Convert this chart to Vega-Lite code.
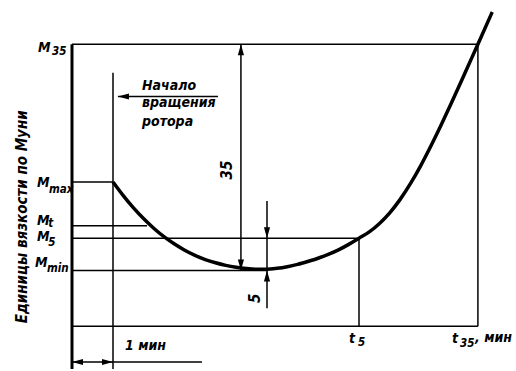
{
  "$schema": "https://vega.github.io/schema/vega-lite/v6.json",
  "width": 516,
  "height": 371,
  "autosize": {"type": "fit", "contains": "padding"},
  "padding": 0,
  "background": "white",
  "config": {"view": {"stroke": null}},
  "datasets": {
    "curve": [
      {"t": 1.0, "M": 53.7}, {"t": 1.25, "M": 51.6}, {"t": 1.5, "M": 49.7}, {"t": 1.75, "M": 48.0},
      {"t": 2.0, "M": 46.5}, {"t": 2.25, "M": 45.2}, {"t": 2.5, "M": 44.1}, {"t": 2.75, "M": 43.15},
      {"t": 3.0, "M": 42.35}, {"t": 3.25, "M": 41.7}, {"t": 3.5, "M": 41.2}, {"t": 3.75, "M": 40.8},
      {"t": 4.0, "M": 40.5}, {"t": 4.25, "M": 40.3}, {"t": 4.5, "M": 40.2}, {"t": 4.75, "M": 40.2},
      {"t": 5.0, "M": 40.35}, {"t": 5.25, "M": 40.6}, {"t": 5.5, "M": 40.95}, {"t": 5.75, "M": 41.4},
      {"t": 6.0, "M": 41.9}, {"t": 6.25, "M": 42.5}, {"t": 6.5, "M": 43.2}, {"t": 6.75, "M": 44.05},
      {"t": 7.0, "M": 45.0}, {"t": 7.25, "M": 45.97}, {"t": 7.5, "M": 47.28}, {"t": 7.75, "M": 48.93},
      {"t": 8.0, "M": 50.97}, {"t": 8.25, "M": 53.4}, {"t": 8.5, "M": 56.16}, {"t": 8.75, "M": 59.22},
      {"t": 9.0, "M": 62.47}, {"t": 9.25, "M": 65.87}, {"t": 9.5, "M": 69.36}, {"t": 9.75, "M": 72.9},
      {"t": 9.9, "M": 75.0}, {"t": 10.25, "M": 80.0}
    ],
    "thinLines": [
      {"name": "rotor start", "t": 1, "t2": 1, "M": 70.6, "M2": 24.77},
      {"name": "M35", "t": 0, "t2": 9.9, "M": 75, "M2": 75},
      {"name": "t35", "t": 9.9, "t2": 9.9, "M": 75, "M2": 31.38},
      {"name": "base", "t": 0, "t2": 9.9, "M": 31.38, "M2": 31.38},
      {"name": "Mmax", "t": 0, "t2": 1, "M": 53.7, "M2": 53.7},
      {"name": "Mt", "t": 0, "t2": 1.83, "M": 46.92, "M2": 46.92},
      {"name": "M5", "t": 0, "t2": 7, "M": 45, "M2": 45},
      {"name": "t5", "t": 7, "t2": 7, "M": 45, "M2": 31.38},
      {"name": "Mmin", "t": 0, "t2": 4.78, "M": 40, "M2": 40},
      {"name": "dim35", "t": 4.12, "t2": 4.12, "M": 75, "M2": 40},
      {"name": "dim5", "t": 4.756, "t2": 4.756, "M": 50.77, "M2": 34.15},
      {"name": "dim1min", "t": 0, "t2": 3.17, "M": 25.85, "M2": 25.85},
      {"name": "leader", "t": 1.12, "t2": 3.56, "M": 66.92, "M2": 66.92}
    ],
    "thickLines": [
      {"name": "axis", "t": 0, "t2": 0, "M": 75, "M2": 24.77}
    ],
    "arrows": [
      {"t": 4.12, "M": 75, "dir": "up"},
      {"t": 4.12, "M": 40, "dir": "down"},
      {"t": 4.756, "M": 45, "dir": "down"},
      {"t": 4.756, "M": 40, "dir": "up"},
      {"t": 0, "M": 25.85, "dir": "left"},
      {"t": 1, "M": 25.85, "dir": "right"},
      {"t": 1.12, "M": 66.92, "dir": "left"}
    ],
    "mainText": [
      {"t": -0.829, "M": 73.85, "label": "M"},
      {"t": -0.854, "M": 52.92, "label": "M"},
      {"t": -0.854, "M": 47.08, "label": "M"},
      {"t": -0.854, "M": 44.62, "label": "M"},
      {"t": -0.902, "M": 40.62, "label": "M"},
      {"t": 6.756, "M": 28.77, "label": "t"},
      {"t": 9.268, "M": 28.77, "label": "t"},
      {"t": 9.829, "M": 28.92, "label": ", мин"},
      {"t": 1.293, "M": 27.69, "label": "1 мин"},
      {"t": 1.707, "M": 68.0, "label": "Начало"},
      {"t": 1.707, "M": 65.23, "label": "вращения"},
      {"t": 1.707, "M": 62.3, "label": "ротора"}
    ],
    "subText": [
      {"t": -0.488, "M": 73.38, "label": "35"},
      {"t": -0.56, "M": 52.0, "label": "max"},
      {"t": -0.58, "M": 46.77, "label": "t"},
      {"t": -0.58, "M": 43.85, "label": "5"},
      {"t": -0.61, "M": 39.85, "label": "min"},
      {"t": 6.976, "M": 28.31, "label": "5"},
      {"t": 9.463, "M": 28.15, "label": "35"}
    ],
    "rotText": [
      {"t": 3.78, "M": 55.54, "label": "35"},
      {"t": 4.463, "M": 35.69, "label": "5"},
      {"t": -1.22, "M": 48.31, "label": "Единицы вязкости по Муни"}
    ]
  },
  "layer": [
    {
      "data": {"name": "thinLines"},
      "mark": {"type": "rule", "stroke": "black", "strokeWidth": 1.5},
      "encoding": {
        "x": {"field": "t", "type": "quantitative", "scale": {"domain": [-1.756, 10.829], "nice": false, "zero": false}, "axis": null},
        "x2": {"field": "t2"},
        "y": {"field": "M", "type": "quantitative", "scale": {"domain": [24.77, 81.85], "nice": false, "zero": false}, "axis": null},
        "y2": {"field": "M2"}
      }
    },
    {
      "data": {"name": "thickLines"},
      "mark": {"type": "rule", "stroke": "black", "strokeWidth": 3},
      "encoding": {
        "x": {"field": "t", "type": "quantitative", "axis": null},
        "x2": {"field": "t2"},
        "y": {"field": "M", "type": "quantitative", "axis": null},
        "y2": {"field": "M2"}
      }
    },
    {
      "data": {"name": "curve"},
      "mark": {"type": "line", "stroke": "black", "strokeWidth": 3.5, "interpolate": "monotone"},
      "encoding": {
        "x": {"field": "t", "type": "quantitative", "axis": null},
        "y": {"field": "M", "type": "quantitative", "axis": null},
        "order": {"field": "t", "type": "quantitative"}
      }
    },
    {
      "data": {"name": "arrows"},
      "mark": {"type": "point", "filled": true, "color": "black", "size": 484, "opacity": 1},
      "encoding": {
        "x": {"field": "t", "type": "quantitative", "axis": null},
        "y": {"field": "M", "type": "quantitative", "axis": null},
        "shape": {
          "field": "dir", "type": "nominal", "legend": null,
          "scale": {
            "domain": ["up", "down", "left", "right"],
            "range": ["M-0.28,1L0,0L0.28,1Z", "M-0.28,-1L0,0L0.28,-1Z", "M1,-0.28L0,0L1,0.28Z", "M-1,-0.28L0,0L-1,0.28Z"]
          }
        }
      }
    },
    {
      "data": {"name": "mainText"},
      "mark": {"type": "text", "align": "left", "baseline": "alphabetic", "font": "DejaVu Sans Condensed", "fontStyle": "italic", "fontWeight": "bold", "fontSize": 14, "color": "black"},
      "encoding": {
        "x": {"field": "t", "type": "quantitative", "axis": null},
        "y": {"field": "M", "type": "quantitative", "axis": null},
        "text": {"field": "label"}
      }
    },
    {
      "data": {"name": "subText"},
      "mark": {"type": "text", "align": "left", "baseline": "alphabetic", "font": "DejaVu Sans Condensed", "fontStyle": "italic", "fontWeight": "bold", "fontSize": 11.5, "color": "black"},
      "encoding": {
        "x": {"field": "t", "type": "quantitative", "axis": null},
        "y": {"field": "M", "type": "quantitative", "axis": null},
        "text": {"field": "label"}
      }
    },
    {
      "data": {"name": "rotText"},
      "mark": {"type": "text", "align": "center", "baseline": "middle", "angle": 270, "font": "DejaVu Sans Condensed", "fontStyle": "italic", "fontWeight": "bold", "fontSize": 15, "color": "black"},
      "encoding": {
        "x": {"field": "t", "type": "quantitative", "axis": null},
        "y": {"field": "M", "type": "quantitative", "axis": null},
        "text": {"field": "label"}
      }
    }
  ]
}
